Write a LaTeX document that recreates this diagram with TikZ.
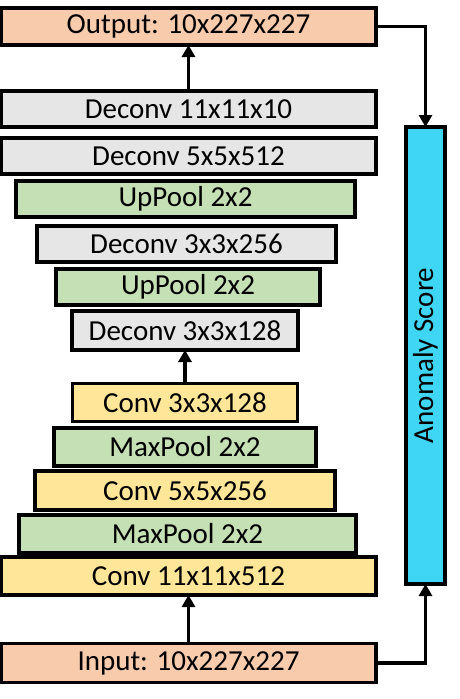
\documentclass[tikz,border=0pt]{standalone}
\usepackage{fontspec}
\setmainfont{Carlito}
\usetikzlibrary{arrows.meta}
\definecolor{cOrange}{HTML}{F8CBAD}
\definecolor{cGray}{HTML}{E7E6E6}
\definecolor{cGreen}{HTML}{C5E0B4}
\definecolor{cYellow}{HTML}{FFE699}
\definecolor{cCyan}{HTML}{3FD6F5}
\begin{document}
\begin{tikzpicture}[x=1pt,y=-1pt,
  layer/.style={draw=black, line width=3.1pt, inner sep=0pt, outer sep=0pt,
    font=\fontsize{29}{33}\selectfont, text=black},
  arr/.style={draw=black, line width=3.4pt, -{Triangle[width=13pt,length=12pt]}}]
\useasboundingbox (0,0) rectangle (460,699);
\node[layer, fill=cOrange, minimum width=375pt, minimum height=37pt] (output) at (188.5,26.5) {Output: 10x227x227};
\node[layer, fill=cGray, minimum width=375pt, minimum height=36pt] (dec11) at (188.5,109) {Deconv 11x11x10};
\node[layer, fill=cGray, minimum width=375pt, minimum height=36pt] (dec5) at (188.5,156) {Deconv 5x5x512};
\node[layer, fill=cGreen, minimum width=339pt, minimum height=36pt] (up1) at (185.5,199) {UpPool 2x2};
\node[layer, fill=cGray, minimum width=299pt, minimum height=36pt] (dec3a) at (186.5,244) {Deconv 3x3x256};
\node[layer, fill=cGreen, minimum width=264pt, minimum height=36pt] (up2) at (188,287) {UpPool 2x2};
\node[layer, fill=cGray, minimum width=226pt, minimum height=39pt] (dec3b) at (185,330.5) {Deconv 3x3x128};
\node[layer, fill=cYellow, minimum width=225pt, minimum height=38pt] (conv3) at (185,402.5) {Conv 3x3x128};
\node[layer, fill=cGreen, minimum width=262pt, minimum height=38pt] (mp1) at (185,447) {MaxPool 2x2};
\node[layer, fill=cYellow, minimum width=300pt, minimum height=39pt] (conv5) at (185,490.5) {Conv 5x5x256};
\node[layer, fill=cGreen, minimum width=337pt, minimum height=38pt] (mp2) at (187.5,534) {MaxPool 2x2};
\node[layer, fill=cYellow, minimum width=375pt, minimum height=38pt] (conv11) at (188.5,576) {Conv 11x11x512};
\node[layer, fill=cOrange, minimum width=375pt, minimum height=39pt] (input) at (188.5,663) {Input: 10x227x227};
\node[layer, fill=cCyan, minimum width=39pt, minimum height=457pt] (anom) at (425.5,355.5) {};
\node[font=\fontsize{29}{33}\selectfont, rotate=90, inner sep=0pt] (anomtext) at (anom.center) {Anomaly Score};
\draw[arr] (dec11.north) -- (output.south);
\draw[arr] (conv3.north) -- (dec3b.south);
\draw[arr] (input.north) -- (conv11.south);
\draw[arr] (output.east) -| (anom.north);
\draw[arr] (input.east) -| (anom.south);
\end{tikzpicture}
\end{document}
